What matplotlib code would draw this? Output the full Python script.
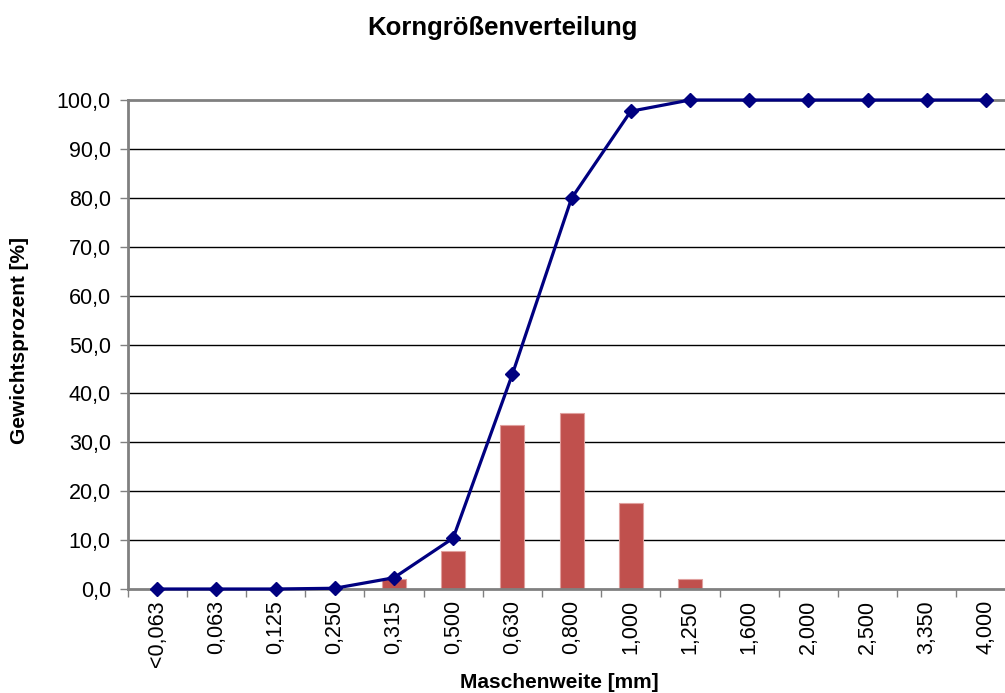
import matplotlib
matplotlib.use("Agg")
import matplotlib.pyplot as plt
import numpy as np

plt.rcParams['font.family'] = ['Liberation Sans', 'DejaVu Sans']

categories = ["<0,063", "0,063", "0,125", "0,250", "0,315", "0,500", "0,630",
              "0,800", "1,000", "1,250", "1,600", "2,000", "2,500", "3,350", "4,000"]
bar_values = [0, 0, 0, 0, 2.0, 7.8, 33.5, 36.0, 17.5, 2.1, 0, 0, 0, 0, 0]
line_values = [0, 0, 0, 0.15, 2.3, 10.4, 43.9, 79.9, 97.7, 100, 100, 100, 100, 100, 100]
yticks = [0, 10, 20, 30, 40, 50, 60, 70, 80, 90, 100]

fig = plt.figure(figsize=(10.05, 6.93), dpi=100)
ax = fig.add_axes([127.5/1005, 104/693, (1015.6-127.5)/1005, 489/693])

x = np.arange(len(categories))
ax.bar(x, bar_values, width=0.405, color='#C0504D', edgecolor='#E0A09E', linewidth=0.8, zorder=2)
ax.plot(x, line_values, color='#000080', linewidth=2.3, marker='D', markersize=7.5, zorder=3, clip_on=False)

ax.set_xlim(-0.5, len(categories) - 0.5)
ax.set_ylim(0, 100)
ax.set_yticks(yticks)
ax.set_yticklabels([f"{v:.1f}".replace('.', ',') for v in yticks], fontsize=15.5)
ax.set_xticks(x)
ax.set_xticklabels(categories, rotation=90, fontsize=15.5)
ax.set_xticks(np.arange(-0.5, len(categories), 1), minor=True)
ax.tick_params(axis='x', which='major', length=0, pad=8)
ax.tick_params(axis='x', which='minor', length=6, width=1, color='#808080')
ax.tick_params(axis='y', length=6, width=1, color='#808080', pad=6)

for yv in yticks[1:-1]:
    ax.axhline(yv, color='black', linewidth=1, zorder=1)

for s in ['left', 'bottom', 'top']:
    ax.spines[s].set_color('#808080')
    ax.spines[s].set_linewidth(2)
ax.spines['right'].set_visible(False)

fig.text(20/1005, 1 - 340/693, "Gewichtsprozent [%]", rotation=90, ha='center', va='center',
         fontsize=15, fontweight='bold')
fig.text(559/1005, 1 - 682/693, "Maschenweite [mm]", ha='center', va='center',
         fontsize=15, fontweight='bold')
fig.text(502/1005, 1 - 28/693, "Korngrößenverteilung", ha='center', va='center',
         fontsize=18.5, fontweight='bold')

fig.savefig("out.png", dpi=100)
